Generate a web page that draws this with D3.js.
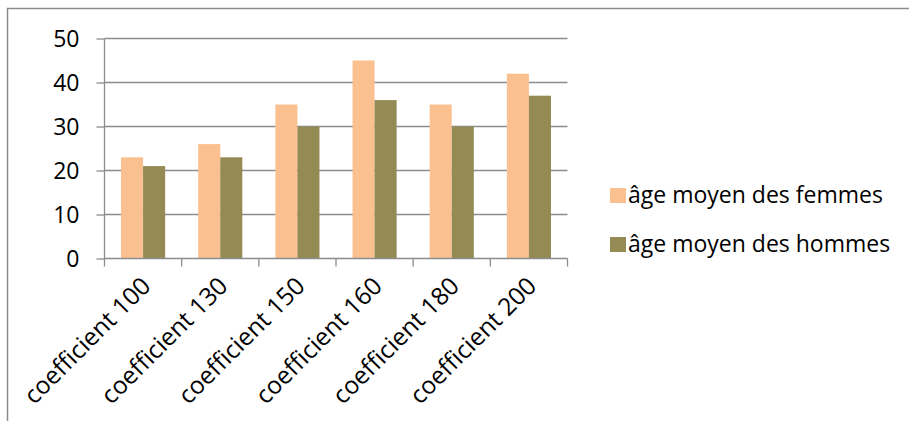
<!DOCTYPE html>
<html>
<head>
<meta charset="utf-8">
<script src="https://cdn.jsdelivr.net/npm/d3@7"></script>
<style>
  html, body { margin: 0; padding: 0; background: #fff; }
  svg { display: block; font-family: "Open Sans", Lato, sans-serif; font-variant-ligatures: none; }
</style>
</head>
<body>
<svg id="chart" width="909" height="421"></svg>
<script>
// Average age by coefficient, women vs men
const categories = ["coefficient 100", "coefficient 130", "coefficient 150", "coefficient 160", "coefficient 180", "coefficient 200"];
const seriesNames = ["âge moyen des femmes", "âge moyen des hommes"];
const femmes = [23, 26, 35, 45, 35, 42];
const hommes = [21, 23, 30, 36, 30, 37];
const yTicks = [0, 10, 20, 30, 40, 50];
const colors = ["#FAC090", "#948A54"];

const FONT = "\"Open Sans\", Lato, sans-serif";
const FS = 23;

const svg = d3.select("#chart");

// outer chart frame (runs off the right and bottom edges)
svg.append("rect")
  .attr("x", 7.5).attr("y", 8.5)
  .attr("width", 1000).attr("height", 1000)
  .attr("fill", "none").attr("stroke", "#8c8c8c").attr("stroke-width", 1.5);

const plot = { left: 104.5, right: 567.5, top: 38.5, bottom: 258.5 };

const x = d3.scaleBand().domain(categories).range([plot.left, plot.right]).paddingInner(0).paddingOuter(0);
const inner = d3.scaleBand().domain(seriesNames).range([0, x.bandwidth()]).paddingInner(0).paddingOuter(0.75);
const y = d3.scaleLinear().domain([0, 50]).range([plot.bottom, plot.top]);

// horizontal gridlines
svg.append("g").selectAll("line").data(yTicks.filter(d => d > 0)).join("line")
  .attr("x1", plot.left).attr("x2", plot.right)
  .attr("y1", d => y(d)).attr("y2", d => y(d))
  .attr("stroke", "#8c8c8c").attr("stroke-width", 1.3);

// bars
const rows = categories.map((c, i) => ({ c, vals: [femmes[i], hommes[i]] }));
const groups = svg.append("g").selectAll("g").data(rows).join("g")
  .attr("transform", d => `translate(${x(d.c)},0)`);
groups.selectAll("rect").data(d => d.vals.map((v, j) => ({ v, s: seriesNames[j], j }))).join("rect")
  .attr("x", d => inner(d.s))
  .attr("width", inner.bandwidth())
  .attr("y", d => y(d.v))
  .attr("height", d => y(0) - y(d.v))
  .attr("fill", d => colors[d.j]);

// y axis
const yAxis = d3.axisLeft(y).tickValues(yTicks).tickSize(8).tickPadding(17);
const gy = svg.append("g").attr("transform", `translate(${plot.left},0)`).call(yAxis);
gy.select(".domain").attr("stroke", "#8c8c8c").attr("stroke-width", 1.3).attr("d", `M0,${plot.top}V${plot.bottom}`);
gy.selectAll(".tick line").attr("stroke", "#8c8c8c").attr("stroke-width", 1.3);
gy.selectAll(".tick text").attr("font-size", FS).attr("fill", "#000").attr("font-family", FONT).attr("dy", "0.36em");

// x axis: ticks at category boundaries
const gx = svg.append("g").attr("transform", `translate(0,${plot.bottom})`);
gx.append("line").attr("x1", plot.left).attr("x2", plot.right)
  .attr("stroke", "#8c8c8c").attr("stroke-width", 1.3);
const bounds = categories.map(c => x(c)).concat([plot.right]);
gx.selectAll("line.tk").data(bounds).join("line").attr("class", "tk")
  .attr("x1", d => d).attr("x2", d => d).attr("y1", 0).attr("y2", 8)
  .attr("stroke", "#8c8c8c").attr("stroke-width", 1.3);
gx.selectAll("text").data(categories).join("text")
  .attr("transform", d => `translate(${x(d) + x.bandwidth() / 2 + 9},${29}) rotate(-45)`)
  .attr("text-anchor", "end")
  .attr("font-size", 24.5)
  .attr("fill", "#000")
  .text(d => d);

// legend
const legend = svg.append("g").selectAll("g").data(seriesNames).join("g")
  .attr("transform", (d, i) => `translate(610,${188 + i * 49})`);
legend.append("rect").attr("width", 16).attr("height", 15).attr("fill", (d, i) => colors[i]);
legend.append("text").attr("x", 18).attr("y", 15)
  .attr("font-size", FS).attr("fill", "#000").text(d => d);
</script>
</body>
</html>
